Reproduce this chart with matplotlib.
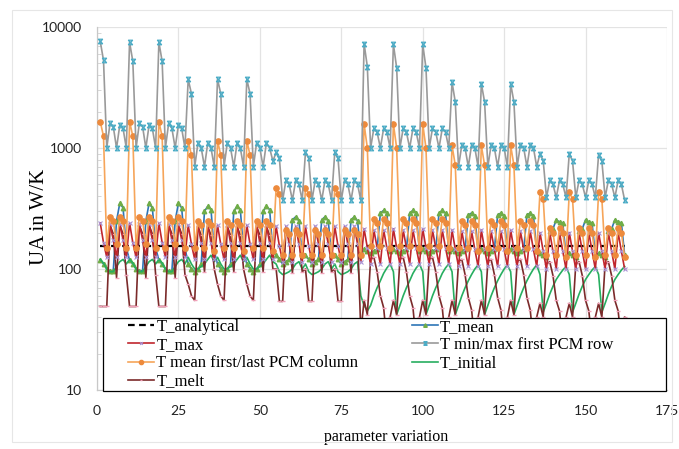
import matplotlib
matplotlib.use("Agg")
import matplotlib.pyplot as plt
from matplotlib.path import Path
from matplotlib.patches import Rectangle

# ---------------- data ----------------
param = list(range(1, 163))

T_analytical = 155

T_minmax_row = [
    7600, 5300, 1000, 1600, 1500, 1000, 1550, 1450, 1000,
    7500, 5200, 1000, 1600, 1500, 1000, 1550, 1450, 1000,
    7500, 5200, 1000, 1600, 1450, 1000, 1550, 1450, 1000,
    3700, 2800, 700, 1100, 1000, 700, 1100, 1000, 700,
    3700, 2800, 700, 1100, 1000, 700, 1100, 1000, 700,
    3700, 2800, 700, 1100, 1000, 700, 1100, 1000, 780,
    920, 820, 370, 540, 500, 370, 540, 500, 370,
    920, 820, 370, 540, 500, 370, 540, 500, 370,
    920, 820, 370, 540, 500, 370, 540, 500, 370,
    7300, 4700, 1000, 1450, 1350, 1000, 1450, 1350, 1000,
    7200, 4600, 1000, 1450, 1350, 1000, 1450, 1350, 1000,
    7200, 4600, 1000, 1450, 1350, 1000, 1450, 1350, 1000,
    3500, 2400, 700, 1060, 1000, 700, 1060, 1000, 700,
    3400, 2400, 700, 1060, 1000, 700, 1060, 1000, 700,
    3400, 2400, 700, 1060, 1000, 700, 1060, 1000, 700,
    900, 780, 390, 540, 500, 390, 540, 500, 390,
    900, 780, 390, 540, 500, 390, 540, 500, 390,
    880, 780, 390, 540, 500, 390, 540, 500, 370,
]

T_mean_col = [
    1650, 1250, 150, 270, 250, 160, 270, 250, 150,
    1650, 1250, 150, 270, 250, 160, 270, 250, 150,
    1650, 1250, 150, 270, 250, 160, 270, 250, 150,
    1150, 870, 150, 250, 230, 150, 250, 230, 140,
    1150, 870, 150, 250, 230, 150, 250, 230, 140,
    1150, 870, 150, 250, 230, 150, 250, 230, 140,
    470, 420, 130, 210, 195, 130, 210, 195, 130,
    470, 420, 130, 210, 195, 130, 210, 195, 130,
    470, 420, 130, 210, 195, 130, 210, 195, 130,
    1580, 1000, 155, 260, 240, 155, 260, 240, 150,
    1580, 1000, 155, 260, 240, 155, 260, 240, 150,
    1580, 1000, 155, 260, 240, 155, 260, 240, 150,
    1050, 720, 150, 250, 230, 150, 250, 230, 140,
    1050, 720, 150, 250, 230, 150, 250, 230, 140,
    1050, 720, 150, 250, 230, 150, 250, 230, 140,
    430, 380, 130, 220, 200, 130, 220, 200, 125,
    430, 380, 130, 220, 200, 130, 220, 200, 125,
    430, 380, 130, 220, 200, 130, 220, 200, 125,
]

T_max = [
    240, 165, 125, 235, 175, 125, 235, 175, 125,
    240, 165, 125, 235, 175, 125, 235, 175, 125,
    240, 165, 125, 235, 175, 125, 235, 175, 125,
    230, 160, 120, 230, 165, 120, 230, 165, 120,
    230, 160, 120, 230, 165, 120, 230, 165, 120,
    230, 160, 120, 230, 165, 120, 230, 165, 120,
    225, 155, 115, 225, 160, 115, 225, 160, 115,
    225, 155, 115, 225, 160, 115, 225, 160, 115,
    225, 155, 115, 225, 160, 115, 225, 160, 115,
    215, 150, 110, 210, 150, 110, 210, 150, 110,
    215, 150, 110, 210, 150, 110, 210, 150, 110,
    215, 150, 110, 210, 150, 110, 210, 150, 110,
    210, 145, 105, 205, 145, 105, 205, 145, 105,
    210, 145, 105, 205, 145, 105, 205, 145, 105,
    210, 145, 105, 205, 145, 105, 205, 145, 105,
    200, 140, 100, 200, 140, 100, 200, 140, 100,
    200, 140, 100, 200, 140, 100, 200, 140, 100,
    200, 140, 100, 200, 140, 100, 200, 140, 100,
]

T_melt = [
    49, 49, 49, 230, 195, 85, 230, 195, 90,
    49, 49, 49, 230, 195, 85, 230, 195, 90,
    49, 49, 49, 230, 195, 85, 230, 195, 90,
    75, 60, 55, 225, 190, 95, 225, 190, 100,
    75, 60, 55, 225, 190, 95, 225, 190, 100,
    75, 60, 55, 225, 190, 95, 225, 190, 100,
    100, 54, 54, 215, 185, 93, 215, 185, 95,
    100, 54, 54, 215, 185, 93, 215, 185, 95,
    100, 54, 54, 215, 185, 93, 215, 185, 30,
    55, 42, 120, 125, 95, 60, 48, 25, 40,
    55, 42, 120, 125, 95, 60, 48, 25, 40,
    55, 42, 120, 125, 95, 60, 48, 25, 40,
    55, 42, 115, 120, 90, 58, 46, 25, 40,
    55, 42, 115, 120, 90, 58, 46, 25, 40,
    55, 42, 115, 120, 90, 58, 46, 25, 40,
    52, 40, 110, 115, 88, 55, 45, 25, 40,
    52, 40, 110, 115, 88, 55, 45, 25, 40,
    52, 40, 110, 115, 88, 55, 45, 25, 40,
]

T_initial = [
    120, 112, 100, 95, 95, 105, 115, 120, 110,
    120, 112, 100, 95, 95, 105, 115, 120, 110,
    120, 112, 100, 95, 95, 105, 115, 120, 110,
    125, 110, 100, 100, 105, 110, 120, 130, 115,
    125, 110, 100, 100, 105, 110, 120, 130, 115,
    125, 110, 100, 100, 105, 110, 120, 130, 115,
    110, 95, 90, 92, 95, 100, 110, 115, 100,
    110, 95, 90, 92, 95, 100, 110, 115, 100,
    110, 95, 90, 92, 95, 100, 110, 115, 60,
    50, 45, 50, 60, 70, 80, 92, 102, 110,
    95, 42, 50, 60, 70, 80, 92, 102, 110,
    95, 42, 50, 60, 70, 80, 92, 102, 110,
    95, 42, 50, 60, 70, 80, 90, 100, 108,
    95, 42, 50, 60, 70, 80, 90, 100, 108,
    95, 42, 50, 60, 70, 80, 90, 100, 108,
    90, 44, 52, 62, 72, 82, 90, 98, 105,
    90, 44, 52, 62, 72, 82, 90, 98, 105,
    90, 44, 52, 62, 72, 82, 90, 98, 105,
]

T_mean = [
    118, 110, 100, 96, 97, 250, 350, 320, 150,
    118, 110, 100, 96, 97, 250, 350, 320, 150,
    118, 110, 100, 96, 97, 250, 350, 320, 150,
    110, 100, 95, 100, 110, 300, 330, 310, 140,
    110, 100, 95, 100, 110, 300, 330, 310, 140,
    110, 100, 95, 100, 110, 300, 330, 310, 140,
    130, 120, 110, 115, 120, 255, 270, 250, 130,
    130, 120, 110, 115, 120, 255, 270, 250, 130,
    130, 120, 110, 115, 120, 255, 270, 250, 130,
    145, 140, 135, 140, 145, 290, 305, 290, 140,
    145, 140, 135, 140, 145, 290, 305, 290, 140,
    145, 140, 135, 140, 145, 290, 305, 290, 140,
    145, 140, 135, 140, 145, 280, 290, 275, 140,
    145, 140, 135, 140, 145, 280, 290, 275, 140,
    145, 140, 135, 140, 145, 280, 290, 275, 140,
    135, 130, 125, 205, 215, 255, 245, 240, 130,
    135, 130, 125, 205, 215, 255, 245, 240, 130,
    135, 130, 125, 205, 215, 255, 245, 240, 130,
]

labels = ["T_analytical", "T_mean", "T_max", "T min/max first PCM row",
          "T mean first/last PCM column", "T_initial", "T_melt"]
x_ticks = [0, 25, 50, 75, 100, 125, 150, 175]
y_ticks = [10, 100, 1000, 10000]

# ---------------- styling ----------------
serif = ["Liberation Serif", "DejaVu Serif"]
sans = ["Lato", "DejaVu Sans"]

hourglass = Path(
    [(-1, -1), (1, 1), (-1, 1), (1, -1), (-1, 1), (1, 1), (-1, -1), (1, -1)],
    [Path.MOVETO, Path.LINETO, Path.MOVETO, Path.LINETO,
     Path.MOVETO, Path.LINETO, Path.MOVETO, Path.LINETO])

W, H = 679, 449
L, R, T, B = 97, 667, 27, 390
fig = plt.figure(figsize=(W / 100, H / 100), dpi=100)
ax = fig.add_axes([L / W, 1 - B / H, (R - L) / W, (B - T) / H])

lw = 1.2
h_an, = ax.plot([param[0], param[-1]], [T_analytical, T_analytical],
                color="black", ls=(0, (3, 2)), lw=1.6, zorder=3)
h_mean, = ax.plot(param, T_mean, color="#2e75b6", lw=lw, marker="^",
                  ms=3.2, mfc="#70ad47", mec="#70ad47", zorder=4)
h_max, = ax.plot(param, T_max, color="#c0262d", lw=lw, marker="x", ms=2.5,
                 mec="#a993d6", mew=0.8, zorder=5)
h_row, = ax.plot(param, T_minmax_row, color="#9a9a9a", lw=lw,
                 marker=hourglass, ms=3.3, mec="#4bacc6", mfc="none",
                 mew=0.9, zorder=6)
h_col, = ax.plot(param, T_mean_col, color="#f6a55a", lw=lw, marker="o",
                 ms=3.8, mfc="#ed8a3c", mec="#ed8a3c", zorder=5)
h_ini, = ax.plot(param, T_initial, color="#27ae60", lw=lw, zorder=4)
h_melt, = ax.plot(param, T_melt, color="#7b2a2a", lw=lw, marker="_", ms=2.5,
                  mec="#f0a0b8", zorder=4)

ax.set_yscale("log")
ax.set_ylim(10, 10000)
ax.set_xlim(0, 175)
ax.set_xticks(x_ticks)
ax.set_yticks(y_ticks)
ax.set_yticklabels([str(v) for v in y_ticks])
ax.set_xticklabels([str(v) for v in x_ticks])
ax.tick_params(axis="both", which="major", length=0, pad=11,
               labelsize=10, labelcolor="#222222")
ax.tick_params(axis="y", which="minor", length=3, color="#d0d0d0",
               direction="in", labelleft=False)
for lab in ax.get_xticklabels() + ax.get_yticklabels():
    lab.set_fontfamily(sans)

ax.grid(True, which="major", color="#e3e3e3", lw=0.9)
ax.set_axisbelow(True)
for s in ["top", "right"]:
    ax.spines[s].set_visible(False)
for s in ["left", "bottom"]:
    ax.spines[s].set_color("#c8c8c8")
    ax.spines[s].set_linewidth(0.9)

ax.set_ylabel("UA in W/K", fontfamily=serif, fontsize=15)
ax.yaxis.set_label_coords((49 - L) / (R - L), (B - 217) / (B - T))
ax.set_xlabel("parameter variation", fontfamily=serif, fontsize=11.5)
ax.xaxis.set_label_coords((386 - L) / (R - L), (B - 429) / (B - T))

# legend frame drawn as a patch in pixel-derived axes coordinates
lx0, lx1, ly0, ly1 = 103, 666, 391, 318
frame = Rectangle(((lx0 - L) / (R - L), (B - ly0) / (B - T)),
                  (lx1 - lx0) / (R - L), (ly0 - ly1) / (B - T),
                  transform=ax.transAxes, facecolor="white",
                  edgecolor="black", lw=0.9, zorder=9, clip_on=False)
ax.add_patch(frame)

handles = [h_an, h_max, h_col, h_melt, h_mean, h_row, h_ini]
hl = [labels[0], labels[2], labels[4], labels[6], labels[1], labels[3], labels[5]]
leg = ax.legend(handles, hl, loc="upper left", ncol=2,
                bbox_to_anchor=((128 - L) / (R - L), (B - 319) / (B - T)),
                frameon=False, prop={"family": serif, "size": 12},
                handlelength=1.55, handletextpad=0.15, labelspacing=0.13,
                borderpad=0.0, borderaxespad=0.0, columnspacing=3.2,
                markerscale=0.8)
leg.set_zorder(10)

fig.patches.append(Rectangle((12 / W, 1 - 442 / H), 660 / W, 432 / H,
                             transform=fig.transFigure, fill=False,
                             edgecolor="#e6e6e6", lw=0.8))

fig.savefig("out.png", dpi=100)
